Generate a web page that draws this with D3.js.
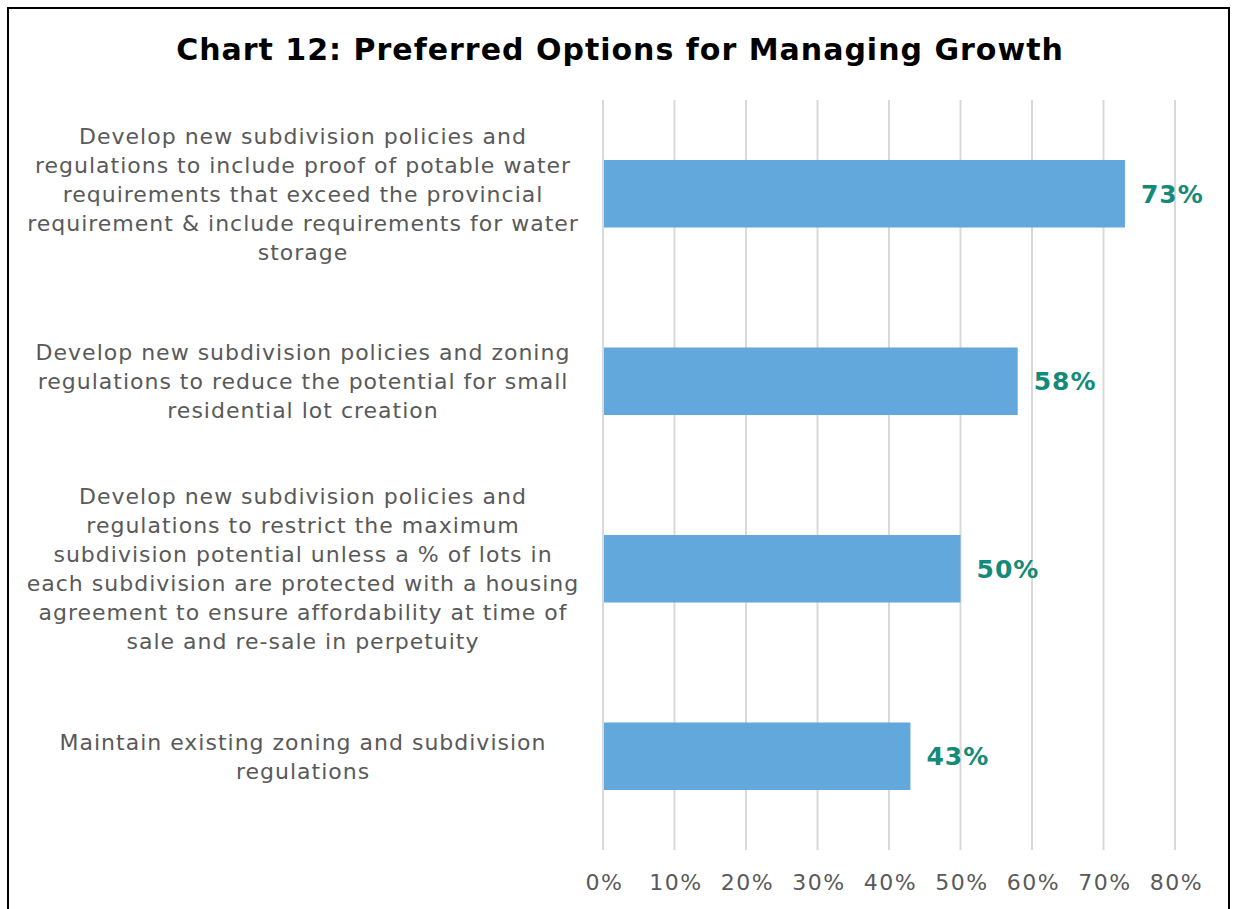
<!DOCTYPE html>
<html>
<head>
<meta charset="utf-8">
<script src="https://cdn.jsdelivr.net/npm/d3@7"></script>
<style>
  body { margin: 0; background: #fff; }
  svg { display: block; font-family: "DejaVu Sans", Verdana, sans-serif; }
</style>
</head>
<body>
<div id="chart"></div>
<script>
// data
var categories = [
  ["Develop new subdivision policies and", "regulations to include proof of potable water", "requirements that exceed the provincial", "requirement & include requirements for water", "storage"],
  ["Develop new subdivision policies and zoning", "regulations to reduce the potential for small", "residential lot creation"],
  ["Develop new subdivision policies and", "regulations to restrict the maximum", "subdivision potential unless a % of lots in", "each subdivision are protected with a housing", "agreement to ensure affordability at time of", "sale and re-sale in perpetuity"],
  ["Maintain existing zoning and subdivision", "regulations"]
];
var values = [0.73, 0.58, 0.50, 0.43];
var ticks = [0, 0.1, 0.2, 0.3, 0.4, 0.5, 0.6, 0.7, 0.8];
var title = "Chart 12: Preferred Options for Managing Growth";

var width = 1233, height = 909;
var svg = d3.select("#chart").append("svg")
    .attr("width", width)
    .attr("height", height);

// outer frame (bottom is cut off in the original)
svg.append("rect")
    .attr("x", 8).attr("y", 8)
    .attr("width", 1221).attr("height", 930)
    .attr("fill", "none")
    .attr("stroke", "#000")
    .attr("stroke-width", 2);

svg.append("text")
    .attr("x", 620).attr("y", 60)
    .attr("text-anchor", "middle")
    .style("font-size", "30px")
    .style("font-weight", "bold")
    .style("letter-spacing", "1px")
    .attr("fill", "#000")
    .text(title);

var x = d3.scaleLinear().domain([0, 0.8]).range([603, 1175]);
var y = d3.scaleBand().domain(d3.range(values.length)).range([100, 850]).paddingInner(0.64).paddingOuter(0.32);

// gridlines
svg.append("g").selectAll("line")
    .data(ticks).enter()
    .append("line")
      .attr("x1", function(d) { return x(d); })
      .attr("x2", function(d) { return x(d); })
      .attr("y1", 100).attr("y2", 850)
      .attr("stroke", "#d9d9d9")
      .attr("stroke-width", 2);

// x axis tick labels
var xAxis = d3.axisBottom(x).tickValues(ticks).tickFormat(d3.format(".0%")).tickSize(0).tickPadding(0);
var ax = svg.append("g").attr("transform", "translate(0,874)").call(xAxis);
ax.select(".domain").remove();
ax.selectAll("text")
    .attr("dy", "0.71em")
    .attr("dx", "1px")
    .style("font-size", "22px")
    .style("letter-spacing", "1.5px")
    .style("font-family", "\"DejaVu Sans\", Verdana, sans-serif")
    .attr("fill", "#595959");

// bars
svg.append("g").selectAll("rect")
    .data(values).enter()
    .append("rect")
      .attr("x", x(0) + 1)
      .attr("y", function(d, i) { return y(i); })
      .attr("width", function(d) { return x(d) - x(0) - 1; })
      .attr("height", y.bandwidth())
      .attr("fill", "#62a8dc");

// value labels
svg.append("g").selectAll("text")
    .data(values).enter()
    .append("text")
      .attr("x", function(d) { return x(d) + 16; })
      .attr("y", function(d, i) { return y(i) + y.bandwidth() / 2; })
      .attr("dy", "0.36em")
      .style("font-size", "25px")
      .style("font-weight", "bold")
      .style("letter-spacing", "1px")
      .attr("fill", "#148a78")
      .text(function(d) { return Math.round(d * 100) + "%"; });

// category labels
var lineH = 29;
var cat = svg.append("g").selectAll("text")
    .data(categories).enter()
    .append("text")
      .attr("text-anchor", "middle")
      .style("font-size", "22px")
      .style("letter-spacing", "1px")
      .attr("fill", "#595959")
      .attr("transform", function(d, i) {
        var cy = y(i) + y.bandwidth() / 2;
        return "translate(303," + (cy - (d.length - 1) * lineH / 2) + ")";
      });
cat.selectAll("tspan")
    .data(function(d) { return d; }).enter()
    .append("tspan")
      .attr("x", 0)
      .attr("y", function(d, j) { return j * lineH; })
      .attr("dy", "0.36em")
      .text(function(d) { return d; });
</script>
</body>
</html>
